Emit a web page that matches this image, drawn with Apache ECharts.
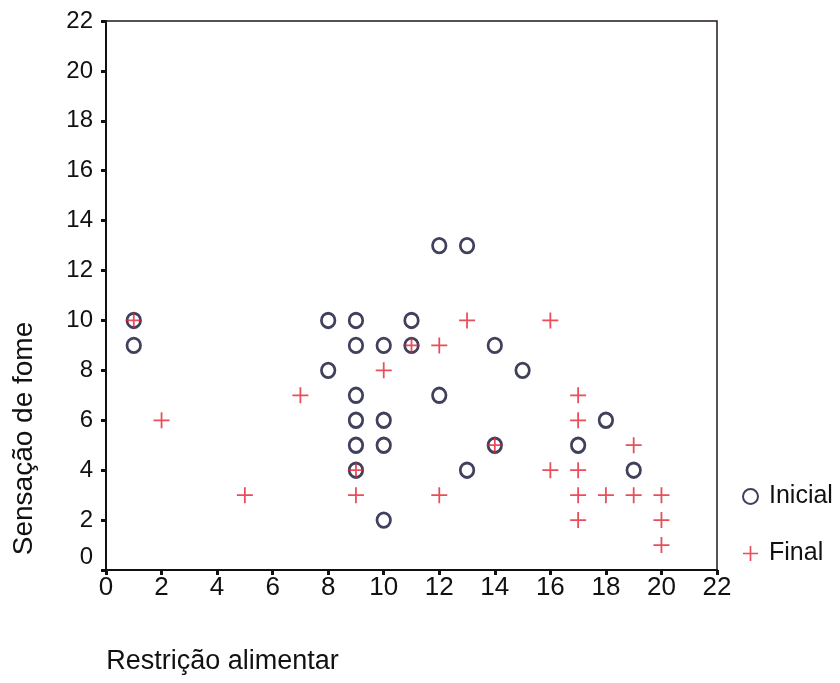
<!DOCTYPE html>
<html>
<head>
    <meta charset="utf-8">
    <title>Sensação de fome x Restrição alimentar</title>
    <script src="https://cdn.jsdelivr.net/npm/echarts@6/dist/echarts.min.js"></script>
    <style>
        body { margin: 0; background: #fff; }
    </style>
</head>
<body>
    <div id="main" style="width: 840px;height:683px;"></div>
    <script type="text/javascript">
        var myChart = echarts.init(document.getElementById('main'));

        // dados: [restrição, fome]
        var inicial = [
            [1, 10], [1, 9],
            [8, 10], [8, 8],
            [9, 10], [9, 9], [9, 7], [9, 6], [9, 5], [9, 4],
            [10, 9], [10, 6], [10, 5], [10, 2],
            [11, 10], [11, 9],
            [12, 13], [12, 7],
            [13, 13], [13, 4],
            [14, 9], [14, 5],
            [15, 8],
            [17, 5],
            [18, 6],
            [19, 4]
        ];
        var final = [
            [1, 10], [2, 6], [5, 3], [7, 7],
            [9, 4], [9, 3], [10, 8], [11, 9],
            [12, 9], [12, 3], [13, 10], [14, 5],
            [16, 10], [16, 4],
            [17, 7], [17, 6], [17, 4], [17, 3], [17, 2],
            [18, 3], [19, 5], [19, 3],
            [20, 3], [20, 2], [20, 1]
        ];
        var seriesNames = ['Inicial', 'Final'];
        var axisMin = 0, axisMax = 22, axisStep = 2;

        var fonte = '"Liberation Sans", Arial, sans-serif';
        var cruz = 'path://M0,8h18v2h-18z M8,0h2v18h-2z';

        option = {
            animation: false,
            textStyle: { fontFamily: fonte },
            grid: {
                left: 106,
                right: 123,
                top: 21,
                bottom: 113,
                show: true,
                borderColor: '#221818',
                borderWidth: 1.5
            },
            legend: {
                orient: 'vertical',
                left: 737,
                top: 479,
                itemGap: 32,
                itemWidth: 15,
                itemHeight: 15,
                textStyle: { fontSize: 25, color: '#111', fontFamily: fonte, padding: [0, 0, 0, 6] },
                data: seriesNames
            },
            xAxis: {
                type: 'value',
                min: axisMin,
                max: axisMax,
                interval: axisStep,
                name: 'Restrição alimentar',
                nameLocation: 'middle',
                nameGap: 78,
                nameTextStyle: { fontSize: 27, color: '#111', padding: [0, 378, 0, 0] },
                axisLine: { lineStyle: { color: '#111', width: 2 } },
                axisTick: { length: 5, lineStyle: { color: '#111', width: 3 } },
                axisLabel: { fontSize: 26, color: '#111', margin: 5 },
                splitLine: { show: false }
            },
            yAxis: {
                type: 'value',
                min: axisMin,
                max: axisMax,
                interval: axisStep,
                name: 'Sensação de fome',
                nameLocation: 'middle',
                nameGap: 68,
                nameTextStyle: { fontSize: 28, color: '#111', padding: [0, 286, 0, 0] },
                axisLine: { lineStyle: { color: '#111', width: 2 } },
                axisTick: { length: 5, lineStyle: { color: '#111', width: 3 } },
                axisLabel: {
                    fontSize: 24,
                    color: '#111',
                    margin: 13,
                    formatter: function (v) {
                        return v === 0 ? '{z|0}' : v;
                    },
                    rich: {
                        z: { fontSize: 24, color: '#111', padding: [0, 0, 26, 0] }
                    }
                },
                splitLine: { show: false }
            },
            series: [
                {
                    name: seriesNames[0],
                    type: 'scatter',
                    data: inicial,
                    symbol: 'circle',
                    symbolSize: [13.5, 14.5],
                    itemStyle: {
                        color: 'rgba(0,0,0,0)',
                        borderColor: '#101035',
                        borderWidth: 2.8
                    },
                    z: 2
                },
                {
                    name: seriesNames[1],
                    type: 'scatter',
                    data: final,
                    symbol: cruz,
                    symbolSize: 16,
                    itemStyle: { color: '#e3202f' },
                    z: 3
                }
            ]
        };

        myChart.setOption(option);
    </script>
</body>
</html>
